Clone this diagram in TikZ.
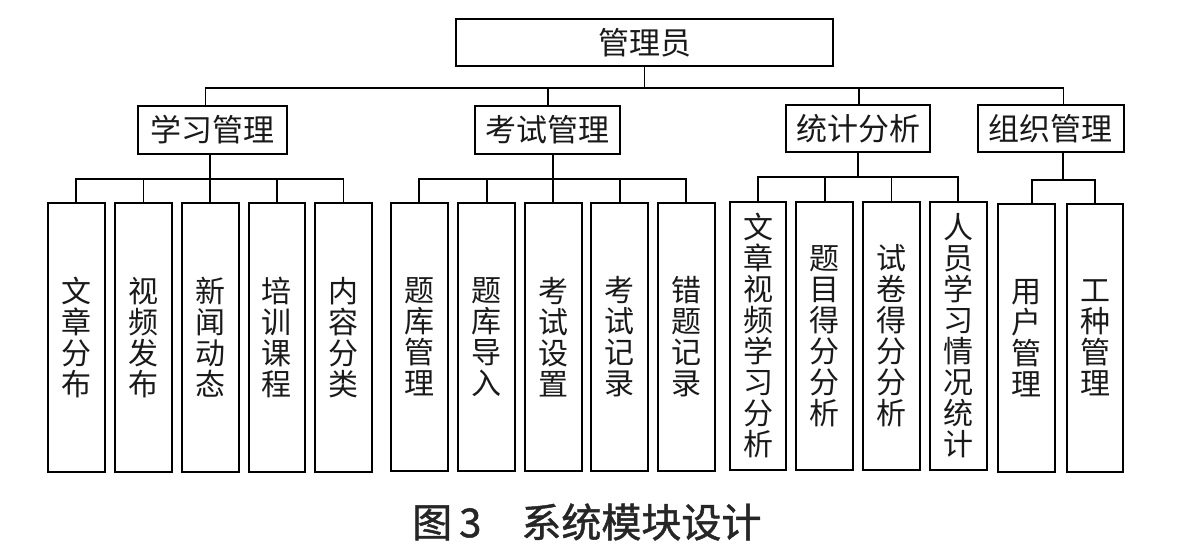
\documentclass[tikz,border=0pt]{standalone}
\usepackage{fontspec}
\usetikzlibrary{calc}
\newfontfamily\cjk{Noto Sans CJK SC}
\newfontfamily\cjkcap[FakeBold=1.2]{Noto Sans CJK SC}
\begin{document}
\begin{tikzpicture}[x=1pt,y=-1pt,
  box/.style={draw=black,line width=2pt,inner sep=0pt,text=black!90},
  topbox/.style={box,minimum width=377pt,minimum height=47pt,font=\cjk\fontsize{31pt}{31pt}\selectfont},
  midbox/.style={box,minimum height=47.5pt,font=\cjk\fontsize{31pt}{31pt}\selectfont},
  leaf/.style={box,minimum width=56.7pt,align=center,font=\cjk\fontsize{30pt}{31pt}\selectfont},
  conn/.style={draw=black,line width=1.9pt,line cap=rect}]
\useasboundingbox (0,0) rectangle (1189,554);
% top
\node[topbox] (top) at (644.5,42.5) {管理员};
% middle
\node[midbox,minimum width=149pt] (m1) at (212.5,130) {学习管理};
\node[midbox,minimum width=145pt] (m2) at (547.5,130) {考试管理};
\node[midbox,minimum width=144pt] (m3) at (858,128.5) {统计分析};
\node[midbox,minimum width=146.5pt] (m4) at (1050.75,128.5) {组织管理};
% leaves group 1
\foreach \i/\x/\t in {1/76.2/文\\章\\分\\布,2/143.5/视\\频\\发\\布,3/210.3/新\\闻\\动\\态,4/276.9/培\\训\\课\\程,5/343.5/内\\容\\分\\类}
  \node[leaf,minimum height=269pt] (a\i) at (\x,337.2) {\t};
% leaves group 2
\foreach \i/\x/\t in {1/419.4/题\\库\\管\\理,2/486.6/题\\库\\导\\入,3/553.3/考\\试\\设\\置,4/619.7/考\\试\\记\\录,5/686.4/错\\题\\记\\录}
  \node[leaf,minimum height=268.5pt] (b\i) at (\x,336.8) {\t};
% leaves group 3
\foreach \i/\x/\t in {1/758/文\\章\\视\\频\\学\\习\\分\\析,2/824.8/题\\目\\得\\分\\分\\析,3/891.5/试\\卷\\得\\分\\分\\析,4/958.3/人\\员\\学\\习\\情\\况\\统\\计}
  \node[leaf,minimum height=268.3pt] (c\i) at (\x,335.85) {\t};
% leaves group 4
\foreach \i/\x/\t in {1/1026.7/用\\户\\管\\理,2/1095/工\\种\\管\\理}
  \node[leaf,minimum height=268pt] (d\i) at (\x,338) {\t};
% top bus
\coordinate (j1) at (205.5,88);
\coordinate (j2) at (548,88);
\coordinate (j3) at (859,88);
\coordinate (j4) at (1063.5,88);
\draw[conn] (top.south) -- (top.south |- j1);
\draw[conn] (j1) -- (j4);
\draw[conn] (j1) -- (j1 |- m1.north);
\draw[conn] (j2) -- (j2 |- m2.north);
\draw[conn] (j3) -- (j3 |- m3.north);
\draw[conn] (j4) -- (j4 |- m4.north);
% group 1 bus
\coordinate (ba) at (0,179);
\draw[conn] (a1.north) -- (a1.north |- ba) -- (a5.north |- ba) -- (a5.north);
\foreach \i in {2,3,4} \draw[conn] (a\i.north) -- (a\i.north |- ba);
\draw[conn] (a3.north |- m1.south) -- (a3.north |- ba);
% group 2 bus
\coordinate (bb) at (0,179);
\draw[conn] (b1.north) -- (b1.north |- bb) -- (b5.north |- bb) -- (b5.north);
\foreach \i in {2,3,4} \draw[conn] (b\i.north) -- (b\i.north |- bb);
\draw[conn] (b3.north |- m2.south) -- (b3.north |- bb);
% group 3 bus
\coordinate (bc) at (0,177);
\coordinate (cm) at ($(c2.north)!0.5!(c3.north)$);
\draw[conn] (c1.north) -- (c1.north |- bc) -- (c4.north |- bc) -- (c4.north);
\foreach \i in {2,3} \draw[conn] (c\i.north) -- (c\i.north |- bc);
\draw[conn] (cm |- m3.south) -- (cm |- bc);
% group 4 bus
\coordinate (bd) at (1031.7,180);
\coordinate (dm) at (1063.4,180);
\draw[conn] (bd |- d1.north) -- (bd) -- (d2.north |- bd) -- (d2.north);
\draw[conn] (dm |- m4.south) -- (dm);
% caption
\node[anchor=west,inner sep=0pt,font=\cjkcap\fontsize{40pt}{40pt}\selectfont,text=black!85] (cap) at (412,522) {图\hspace{7pt}3\hspace{40pt}系统模块设计};
\end{tikzpicture}
\end{document}
